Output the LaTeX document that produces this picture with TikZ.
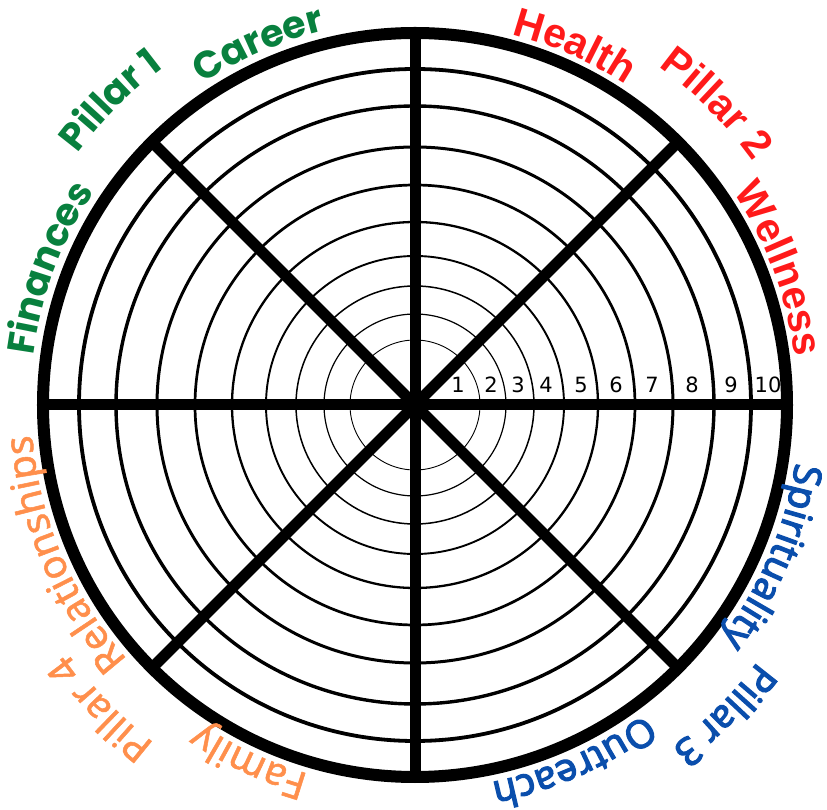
\documentclass[tikz,border=0pt]{standalone}
\usepackage{fontspec}
\setmainfont{DejaVu Sans}
\newfontfamily\popf{Poppins}
\newfontfamily\libf{Liberation Sans}
\newfontfamily\bluef{Noto Sans}[FakeBold=3]
\newfontfamily\orangef{Noto Sans}[FakeBold=1.3]
\usetikzlibrary{decorations.text}
\definecolor{cgreen}{RGB}{8,128,62}
\definecolor{cred}{RGB}{255,26,26}
\definecolor{cblue}{RGB}{10,78,172}
\definecolor{corange}{RGB}{255,143,76}
\newcommand\arclab[4]{%
  \path[decorate,decoration={text along path,text align=center,text={|#3|#4}}]
    ({#1+40}:#2) arc[start angle={#1+40}, end angle={#1-40}, radius=#2];}
\begin{document}
\begin{tikzpicture}[x=1pt,y=1pt,
  spoke/.style={draw=black,line width=11pt},
  rim/.style={draw=black,line width=12pt},
  num/.style={anchor=base,font=\fontsize{21}{21}\selectfont,inner sep=0pt}]
\useasboundingbox (-415,-405) rectangle (412,405);
\foreach \r/\w in {65/0.9,91/1.2,119/1.5,149/1.9,183/2.3,220/2.7,258/3.0,299/3.4,336/3.8}
  \draw[line width=\w pt] (0,0) circle[radius=\r];
\foreach \a in {0,45,90,135}
  \draw[spoke] (\a:372) -- (\a+180:372);
\draw[rim] (0,0) circle[radius=372];
\foreach \x/\k in {43/1,76/2,103/3,131/4,166/5,201/6,237/7,277/8,316/9,353/10}
  \node[num] (n\k) at (\x,12) {\k};
% green
\arclab{113.5}{385}{\popf\bfseries\fontsize{38}{38}\selectfont\color{cgreen}}{Career}
\arclab{135}{421}{\popf\bfseries\fontsize{38}{38}\selectfont\color{cgreen}}{Pillar 1}
\arclab{159.5}{385}{\popf\bfseries\fontsize{38}{38}\selectfont\color{cgreen}}{Finances}
% red
\arclab{66}{383}{\libf\bfseries\fontsize{41}{41}\selectfont\color{cred}}{Health}
\arclab{45}{417}{\libf\bfseries\fontsize{41}{41}\selectfont\color{cred}}{Pillar 2}
\arclab{20.5}{383}{\libf\bfseries\fontsize{41}{41}\selectfont\color{cred}}{Wellness}
% blue
\arclab{-23}{385}{\bluef\fontsize{38.5}{38.5}\selectfont\color{cblue}}{Spirituality}
\arclab{-45}{428}{\bluef\fontsize{38.5}{38.5}\selectfont\color{cblue}}{Pillar 3}
\arclab{-66}{385}{\bluef\fontsize{38.5}{38.5}\selectfont\color{cblue}}{Outreach}
% orange
\arclab{203}{384}{\orangef\fontsize{39.5}{39.5}\selectfont\color{corange}}{Relationships}
\arclab{224}{427}{\orangef\fontsize{39.5}{39.5}\selectfont\color{corange}}{Pillar 4}
\arclab{245}{384}{\orangef\fontsize{39.5}{39.5}\selectfont\color{corange}}{Family}
\end{tikzpicture}
\end{document}
